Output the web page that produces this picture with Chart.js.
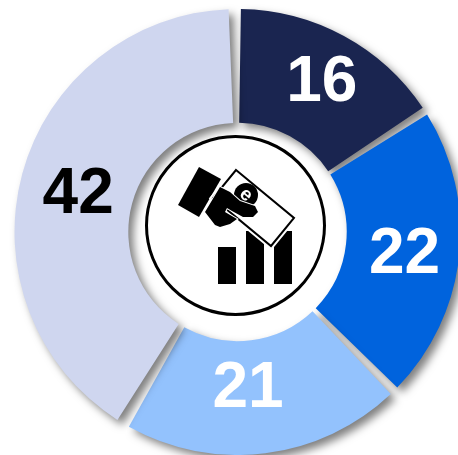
<!DOCTYPE html>
<html>
<head>
<meta charset="utf-8">
<style>
  html, body { margin: 0; padding: 0; background: #fff; }
  #wrap { width: 458px; height: 455px; overflow: hidden; }
</style>
<script src="https://cdn.jsdelivr.net/npm/chart.js@4/dist/chart.umd.min.js"></script>
</head>
<body>
<div id="wrap"><canvas id="grafico" width="458" height="455"></canvas></div>
<script>
const categorias = ["A", "B", "C", "D"];
const valores = [16, 22, 21, 42];
const cores = ["#1a2550", "#0063dd", "#93c2fd", "#cfd6ef"];
const coresTexto = ["#ffffff", "#ffffff", "#ffffff", "#000000"];
// nudge from the arc centre to where the number sits in the picture
const ajusteRotulos = [[5, -3], [2, 5], [-10, -7], [1, 7]];

// shadow under the slices, falls to the lower right
const sombra = {
  id: "sombra",
  beforeDatasetsDraw(chart) {
    const ctx = chart.ctx;
    ctx.save();
    ctx.shadowColor = "rgba(0,0,0,0.5)";
    ctx.shadowBlur = 9;
    ctx.shadowOffsetX = 5;
    ctx.shadowOffsetY = 5;
  },
  afterDatasetsDraw(chart) {
    chart.ctx.restore();
  },
};

function poligono(ctx, pts) {
  ctx.beginPath();
  pts.forEach((p, i) => (i ? ctx.lineTo(p[0], p[1]) : ctx.moveTo(p[0], p[1])));
  ctx.closePath();
}

// black ring and the hand/money/bars icon
const centro = {
  id: "centro",
  afterDraw(chart) {
    const ctx = chart.ctx;
    ctx.save();
    ctx.strokeStyle = "#000";
    ctx.lineWidth = 3;
    ctx.beginPath();
    ctx.arc(235.5, 225.5, 89, 0, Math.PI * 2);
    ctx.stroke();

    ctx.fillStyle = "#000";
    ctx.fillRect(218, 247, 18, 37);
    ctx.fillRect(246, 231, 18, 53);
    ctx.fillRect(274, 231, 18, 53);
    poligono(ctx, [[199, 167], [221, 179], [199, 217], [178, 205]]);
    ctx.fill();

    // banknote with a white edge over the bars
    const nota = [[236, 170], [294, 218], [271, 246], [213, 198]];
    poligono(ctx, nota);
    ctx.strokeStyle = "#fff";
    ctx.lineWidth = 6;
    ctx.stroke();
    ctx.fillStyle = "#fff";
    ctx.fill();
    ctx.strokeStyle = "#000";
    ctx.lineWidth = 2;
    ctx.stroke();

    // coin
    ctx.beginPath();
    ctx.arc(246, 195, 12, 0, Math.PI * 2);
    ctx.fillStyle = "#000";
    ctx.fill();
    ctx.translate(246, 195);
    ctx.rotate(0.7);
    ctx.fillStyle = "#fff";
    ctx.font = "bold 19px 'Liberation Sans', Arial, sans-serif";
    ctx.textAlign = "center";
    ctx.textBaseline = "middle";
    ctx.fillText("e", 0, 0);
    ctx.setTransform(1, 0, 0, 1, 0, 0);

    // hand
    ctx.fillStyle = "#000";
    poligono(ctx, [[220, 187], [230, 192], [240, 201], [255, 206], [258, 212], [253, 217], [243, 217], [232, 211], [227, 208], [225, 212], [237, 219], [230, 224], [220, 227], [215, 225], [205, 212]]);
    ctx.strokeStyle = "#fff";
    ctx.lineWidth = 2;
    ctx.stroke();
    ctx.fill();
    ctx.restore();
  },
};

// numbers on top of everything, real text
const rotulos = {
  id: "rotulos",
  afterDraw(chart) {
    const ctx = chart.ctx;
    const arcos = chart.getDatasetMeta(0).data;
    ctx.save();
    ctx.font = "bold 64px 'Liberation Sans', Arial, sans-serif";
    ctx.textAlign = "center";
    ctx.textBaseline = "middle";
    arcos.forEach((a, i) => {
      const p = a.tooltipPosition();
      ctx.fillStyle = coresTexto[i];
      ctx.fillText(String(valores[i]), p.x + ajusteRotulos[i][0], p.y + ajusteRotulos[i][1]);
    });
    ctx.restore();
  },
};

new Chart(document.getElementById("grafico"), {
  type: "doughnut",
  data: {
    labels: categorias,
    datasets: [{ data: valores, backgroundColor: cores, borderWidth: 0, spacing: 10, clip: false }],
  },
  options: {
    responsive: false,
    animation: false,
    radius: 218,
    cutout: 103,
    layout: { padding: { left: 17, top: 9 } },
    plugins: { legend: { display: false }, tooltip: { enabled: false } },
  },
  plugins: [sombra, centro, rotulos],
});
</script>
</body>
</html>
